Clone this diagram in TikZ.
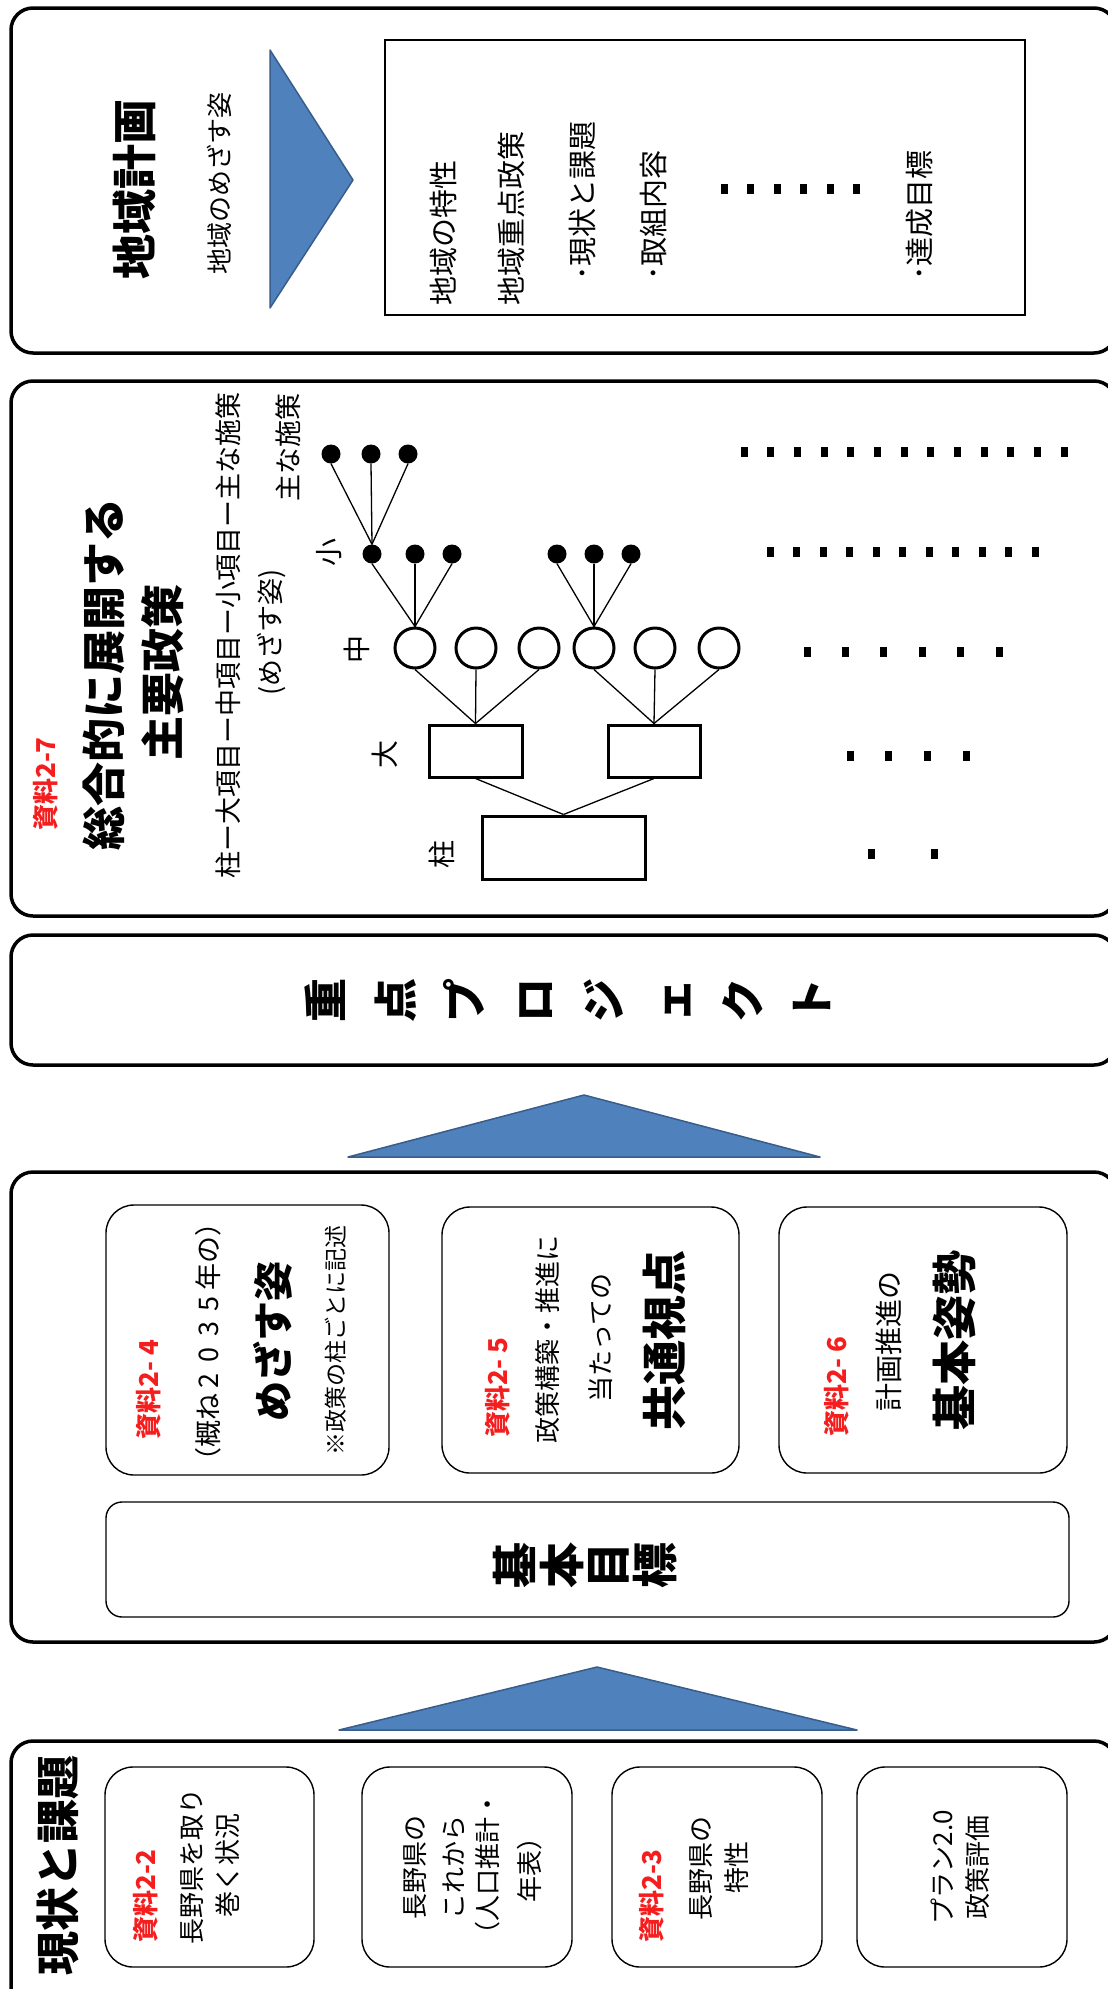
\documentclass[tikz,border=0pt]{standalone}
\usepackage{fontspec}
\setmainfont{Noto Sans CJK JP}
\definecolor{triblue}{RGB}{79,129,189}
\definecolor{triedge}{RGB}{56,93,138}
\definecolor{refred}{RGB}{245,30,30}
\newcommand\myfs[1]{\fontsize{#1}{#1}\selectfont}
\newcommand\wdig[1]{\makebox[0.95em]{#1}}
\tikzset{
  outerbox/.style={draw=black, line width=3.5pt, rounded corners=22pt},
  subbox/.style={draw=black, line width=1.4pt, rounded corners=28pt},
  tri/.style={fill=triblue, draw=triedge, line width=1.5pt, line join=round},
  t/.style={rotate=90, inner sep=0pt},
  reflabel/.style={t, anchor=west, text=refred, font=\myfs{26}\bfseries},
  treebox/.style={draw, line width=3pt, inner sep=0pt},
  midnode/.style={draw, circle, line width=3pt, minimum size=40pt, inner sep=0pt},
  dotnode/.style={fill, circle, minimum size=19pt, inner sep=0pt},
  conn/.style={line width=1.3pt},
  dashmark/.style={fill=black}
}
\begin{document}
\begin{tikzpicture}[x=1pt,y=-1pt]
\useasboundingbox (0,0) rectangle (1108,1989);
\clip (0,0) rectangle (1108,1989);
\fill[white] (0,0) rectangle (1108,1989);

% ---------- Box 1 : 地域計画 ----------
\draw[outerbox] (11,8) rectangle (1116,353);
\draw[tri] (270,50) -- (353,180) -- (270,308) -- cycle;
\draw[line width=1.3pt] (385,40) rectangle (1025,315);
\node[t, font=\myfs{45}\bfseries] (chiiki) at (134,189) {地域計画};
\node[t, font=\myfs{26}] (chiikimezasu) at (219,183) {地域のめざす姿};
\node[t, anchor=west, font=\myfs{29}] (l1) at (443,306) {地域の特性};
\node[t, anchor=west, font=\myfs{29}] (l2) at (511,306) {地域重点政策};
\node[t, anchor=west, font=\myfs{29}] (l3) at (583,281) {･現状と課題};
\node[t, anchor=west, font=\myfs{29}] (l4) at (654,281) {･取組内容};
\node[t, anchor=west, font=\myfs{29}] (l5) at (920,281) {･達成目標};
\foreach \k in {0,...,5} \fill[dashmark] ({724+\k*26.5-3.5},184) rectangle ++(7,10);

% ---------- Box 2 : 主要政策 ----------
\draw[outerbox] (11,381) rectangle (1116,916);
\node[reflabel] (s27) at (46,831) {資料2-7};
\node[t, font=\myfs{44}\bfseries] (sogo) at (104,674) {総合的に展開する};
\node[t, font=\myfs{44}\bfseries] (shuyo) at (163,672) {主要政策};
\node[t, font=\myfs{27}] (hier) at (228,635) {柱ー大項目ー中項目ー小項目ー主な施策};
\node[t, font=\myfs{27}] (hiermez) at (272,632) {(めざす姿)};
\node[t, anchor=east, font=\myfs{27}] (omona) at (288,393) {主な施策};
\node[t, font=\myfs{28}] (lsho) at (329,552) {小};
\node[t, font=\myfs{28}] (lchu) at (357,649) {中};
\node[t, font=\myfs{28}] (ldai) at (385,754) {大};
\node[t, font=\myfs{28}] (lhashira) at (442,854) {柱};

\node[treebox, minimum width=163pt, minimum height=63pt] (pillar) at (563.5,847.5) {};
\node[treebox, minimum width=93pt, minimum height=52pt] (big1) at (475.5,751) {};
\node[treebox, minimum width=92pt, minimum height=52pt] (big2) at (654,751) {};
\node[midnode] (c1) at (415,648) {};
\node[midnode] (c2) at (476,648) {};
\node[midnode] (c3) at (539,648) {};
\node[midnode] (c4) at (594,648) {};
\node[midnode] (c5) at (655,648) {};
\node[midnode] (c6) at (719,648) {};
\node[dotnode] (d1) at (372,554) {};
\node[dotnode] (d2) at (415,554) {};
\node[dotnode] (d3) at (452,554) {};
\node[dotnode] (d4) at (557,554) {};
\node[dotnode] (d5) at (594,554) {};
\node[dotnode] (d6) at (631,554) {};
\node[dotnode] (e1) at (331,454) {};
\node[dotnode] (e2) at (371,454) {};
\node[dotnode] (e3) at (408,454) {};

\draw[conn] (pillar.north) -- (big1.south);
\draw[conn] (pillar.north) -- (big2.south);
\foreach \c in {c1,c2,c3} \draw[conn] (big1.north) -- (\c.south);
\foreach \c in {c4,c5,c6} \draw[conn] (big2.north) -- (\c.south);
\foreach \d in {d1,d2,d3} \draw[conn] (c1.north) -- (\d.south);
\foreach \d in {d4,d5,d6} \draw[conn] (c4.north) -- (\d.south);
\foreach \e in {e1,e2,e3} \draw[conn] (d1.north) -- (\e.south);

\foreach \k in {0,...,12} \fill[dashmark] ({744+\k*26.67-3.5},447) rectangle ++(7,10);
\foreach \k in {0,...,10} \fill[dashmark] ({770+\k*26.5-3.5},547) rectangle ++(7,10);
\foreach \k in {0,...,5} \fill[dashmark] ({807+\k*38.4-3.5},647) rectangle ++(7,10);
\foreach \k in {0,...,3} \fill[dashmark] ({850+\k*38.7-3.5},751) rectangle ++(7,10);
\foreach \k in {0,1} \fill[dashmark] ({871+\k*63-3.5},849) rectangle ++(7,10);

% ---------- Box 3 : 重点プロジェクト ----------
\draw[outerbox] (11,935) rectangle (1116,1065);
\node[t, align=center, font=\fontsize{44}{69.4}\selectfont\bfseries] (juten) at (568,1000)
  {重\\点\\プ\\ロ\\ジ\\ェ\\ク\\ト};

\draw[tri] (348,1157) -- (584,1095) -- (820,1157) -- cycle;

% ---------- Box 4 : 基本目標 ----------
\draw[outerbox] (11,1172) rectangle (1116,1642);
\draw[subbox] (106,1205) rectangle (389,1475);
\draw[subbox] (442,1207) rectangle (739,1473);
\draw[subbox] (779,1207) rectangle (1067,1473);
\draw[subbox, rounded corners=16pt] (106,1502) rectangle (1069,1617);

\node[reflabel] (s24) at (149,1440) {資料2-\hspace{.25em}4};
\node[t, font=\myfs{27}] (gaine) at (208,1342) {（概ね\wdig{2}\wdig{0}\wdig{3}\wdig{5}年の）};
\node[t, font=\myfs{40}\bfseries] (mezasu) at (273,1341) {めざす姿};
\node[t, font=\myfs{23}] (kome) at (336,1340) {※政策の柱ごとに記述};

\node[reflabel] (s25) at (498,1438) {資料2-\hspace{.25em}5};
\node[t, font=\myfs{26}] (seisaku) at (548,1339) {政策構築・推進に};
\node[t, font=\myfs{26}] (atatte) at (601,1338) {当たっての};
\node[t, font=\myfs{45}\bfseries] (kyotsu) at (664,1340) {共通視点};

\node[reflabel] (s26) at (837,1437) {資料2-\hspace{.25em}6};
\node[t, font=\myfs{28}] (keikaku) at (889,1341) {計画推進の};
\node[t, font=\myfs{45}\bfseries] (kihonshisei) at (954,1340) {基本姿勢};

\node[t, align=center, font=\fontsize{46}{46.5}\selectfont\bfseries] (kihonmokuhyo) at (585,1565)
  {基\\本\\目\\標};

\draw[tri] (339,1730) -- (597,1667) -- (857,1730) -- cycle;

% ---------- Box 5 : 現状と課題 ----------
\draw[outerbox] (11,1741) rectangle (1116,2012);
\node[t, font=\myfs{44}\bfseries] (genjo) at (58,1865) {現状と課題};
\draw[subbox] (105,1767) rectangle (314,1967);
\draw[subbox] (362,1767) rectangle (572,1967);
\draw[subbox] (612,1767) rectangle (822,1967);
\draw[subbox] (857,1767) rectangle (1067,1967);

\node[reflabel] (s22) at (146,1943) {資料2-2};
\node[t, font=\myfs{26}] (nagano1) at (192,1866) {長野県を取り};
\node[t, font=\myfs{26}] (maku) at (228,1865) {巻く状況};

\node[t, font=\myfs{26}] (nagano2) at (415,1867) {長野県の};
\node[t, font=\myfs{26}] (korekara) at (454,1867) {これから};
\node[t, font=\myfs{26}] (jinko) at (488,1869) {（人口推計・};
\node[t, font=\myfs{26}] (nenpyo) at (530,1863) {年表）};

\node[reflabel] (s23) at (652,1943) {資料2-3};
\node[t, font=\myfs{26}] (nagano3) at (701,1868) {長野県の};
\node[t, font=\myfs{26}] (tokusei) at (737,1867) {特性};

\node[t, font=\myfs{26}] (plan) at (942,1867) {プラン2.0};
\node[t, font=\myfs{26}] (hyoka) at (978,1867) {政策評価};
\end{tikzpicture}
\end{document}
